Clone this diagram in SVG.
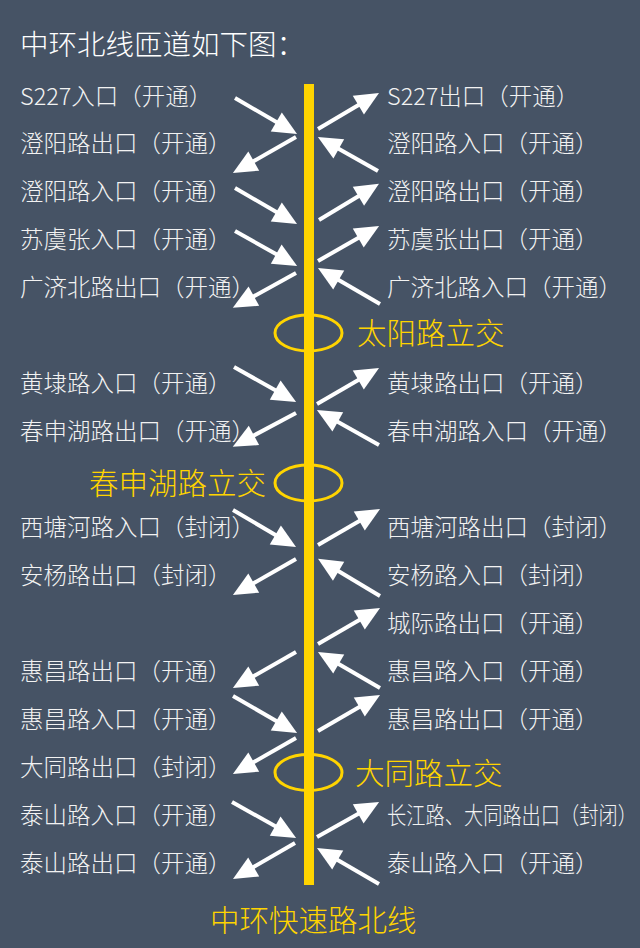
<svg xmlns="http://www.w3.org/2000/svg" width="640" height="948" viewBox="0 0 640 948">
<style>
.lb{font-family:"Noto Sans CJK SC","Noto Sans",sans-serif;font-size:23.5px;font-weight:300;fill:#F2F2F2}
.yl{font-family:"Noto Sans CJK SC","Noto Sans",sans-serif;font-size:29.5px;font-weight:300;fill:#FFD400}
.tt{font-family:"Noto Sans CJK SC","Noto Sans",sans-serif;font-size:28.5px;font-weight:300;fill:#FFFFFF}
.ar{stroke:#FFFFFF;stroke-width:4;fill:none;marker-end:url(#ah)}
.ring{fill:none;stroke:#FFD400;stroke-width:3}
</style>
<defs>
<marker id="ah" markerUnits="userSpaceOnUse" markerWidth="24" markerHeight="22" viewBox="0 0 24 22" refX="14" refY="11" orient="auto" overflow="visible">
<path d="M0,0 L24,11 L0,22 Z" fill="#FFFFFF"/>
</marker>
</defs>
<rect x="0" y="0" width="640" height="948" fill="#465365"/>
<text class="tt" x="20" y="55">中环北线匝道如下图：</text>
<g id="mainline">
<rect x="304" y="84" width="10" height="801" fill="#FFD400"/>
<text class="yl" x="210" y="930.8">中环快速路北线</text>
</g>
<g id="taiyang">
<ellipse class="ring" cx="308.5" cy="333" rx="33.5" ry="18"/>
<text class="yl" x="357" y="343.8">太阳路立交</text>
</g>
<g id="chunshenhu">
<ellipse class="ring" cx="308.5" cy="483" rx="33.5" ry="18"/>
<text class="yl" x="266" y="493.8" text-anchor="end">春申湖路立交</text>
</g>
<g id="datong">
<ellipse class="ring" cx="308.5" cy="772.5" rx="33.5" ry="18"/>
<text class="yl" x="355" y="783.8">大同路立交</text>
</g>
<g id="left-labels">
<text class="lb" x="20" y="104.6">S227入口（开通）</text>
<text class="lb" x="20" y="151.6">澄阳路出口（开通）</text>
<text class="lb" x="20" y="199.6">澄阳路入口（开通）</text>
<text class="lb" x="20" y="247.6">苏虞张入口（开通）</text>
<text class="lb" x="20" y="295.6">广济北路出口（开通）</text>
<text class="lb" x="20" y="391.6">黄埭路入口（开通）</text>
<text class="lb" x="20" y="439.6">春申湖路出口（开通）</text>
<text class="lb" x="20" y="535.6">西塘河路入口（封闭）</text>
<text class="lb" x="20" y="583.6">安杨路出口（封闭）</text>
<text class="lb" x="20" y="679.6">惠昌路出口（开通）</text>
<text class="lb" x="20" y="727.6">惠昌路入口（开通）</text>
<text class="lb" x="20" y="775.6">大同路出口（封闭）</text>
<text class="lb" x="20" y="823.6">泰山路入口（开通）</text>
<text class="lb" x="20" y="871.6">泰山路出口（开通）</text>
</g>
<g id="right-labels">
<text class="lb" x="387" y="104.6">S227出口（开通）</text>
<text class="lb" x="387" y="151.6">澄阳路入口（开通）</text>
<text class="lb" x="387" y="199.6">澄阳路出口（开通）</text>
<text class="lb" x="387" y="247.6">苏虞张出口（开通）</text>
<text class="lb" x="387" y="295.6">广济北路入口（开通）</text>
<text class="lb" x="387" y="391.6">黄埭路出口（开通）</text>
<text class="lb" x="387" y="439.6">春申湖路入口（开通）</text>
<text class="lb" x="387" y="535.6">西塘河路出口（封闭）</text>
<text class="lb" x="387" y="583.6">安杨路入口（封闭）</text>
<text class="lb" x="387" y="631.6">城际路出口（开通）</text>
<text class="lb" x="387" y="679.6">惠昌路入口（开通）</text>
<text class="lb" x="387" y="727.6">惠昌路出口（开通）</text>
<text class="lb" x="387" y="823.6" textLength="250" lengthAdjust="spacingAndGlyphs">长江路、大同路出口（封闭）</text>
<text class="lb" x="387" y="871.6">泰山路入口（开通）</text>
</g>
<g id="connectors">
<line class="ar" x1="235" y1="98" x2="288.4" y2="129"/>
<line class="ar" x1="235" y1="188" x2="288.4" y2="219"/>
<line class="ar" x1="235" y1="231" x2="288.4" y2="261"/>
<line class="ar" x1="234" y1="367" x2="287.4" y2="397"/>
<line class="ar" x1="233" y1="510" x2="287.4" y2="542"/>
<line class="ar" x1="233" y1="696" x2="288.4" y2="728"/>
<line class="ar" x1="232" y1="802" x2="287.4" y2="833"/>
<line class="ar" x1="296" y1="137" x2="241.6" y2="168"/>
<line class="ar" x1="296" y1="273" x2="241.6" y2="303"/>
<line class="ar" x1="296" y1="413" x2="241.6" y2="442"/>
<line class="ar" x1="296" y1="559" x2="241.6" y2="590"/>
<line class="ar" x1="296" y1="652" x2="241.6" y2="683"/>
<line class="ar" x1="296" y1="738" x2="241.6" y2="769"/>
<line class="ar" x1="295" y1="843" x2="241.6" y2="874"/>
<line class="ar" x1="318" y1="129" x2="370.4" y2="98"/>
<line class="ar" x1="319" y1="220" x2="370.4" y2="189"/>
<line class="ar" x1="318" y1="261" x2="370.4" y2="231"/>
<line class="ar" x1="317" y1="404" x2="370.4" y2="373"/>
<line class="ar" x1="318" y1="545" x2="371.4" y2="514"/>
<line class="ar" x1="318" y1="644" x2="371.4" y2="613"/>
<line class="ar" x1="318" y1="731" x2="371.4" y2="700"/>
<line class="ar" x1="317" y1="837" x2="370.4" y2="807"/>
<line class="ar" x1="378" y1="171" x2="326.6" y2="142"/>
<line class="ar" x1="380" y1="304" x2="326.6" y2="273"/>
<line class="ar" x1="379" y1="445" x2="325.6" y2="415"/>
<line class="ar" x1="380" y1="596" x2="326.6" y2="564"/>
<line class="ar" x1="380" y1="688" x2="326.6" y2="657"/>
<line class="ar" x1="379" y1="884" x2="325.6" y2="853"/>
</g>
</svg>
